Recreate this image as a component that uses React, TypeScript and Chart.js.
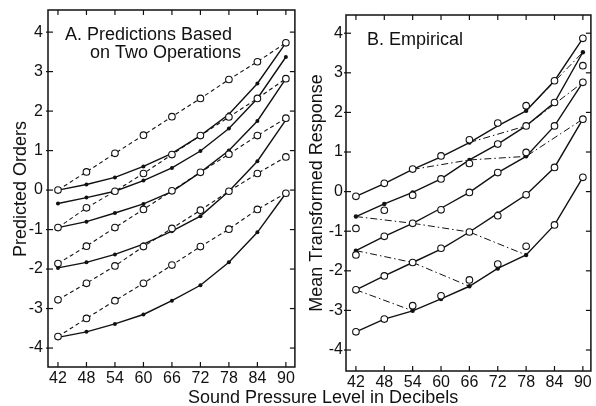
import { useEffect, useRef } from 'react';
import { Chart, registerables } from 'chart.js';
Chart.register(...registerables);

const FONT = "'Liberation Sans', Arial, sans-serif";

// shared axes
const dB = [42, 48, 54, 60, 66, 72, 78, 84, 90];
const yTicks = [-4, -3, -2, -1, 0, 1, 2, 3, 4];

// Panel A: dashed lines with open circles
const aDash1 = [0, 0.46, 0.93, 1.39, 1.86, 2.32, 2.8, 3.25, 3.73];
const aDash2 = [-0.95, -0.45, -0.03, 0.42, 0.9, 1.38, 1.85, 2.32, 2.82];
const aDash3 = [-1.86, -1.42, -0.95, -0.49, -0.02, 0.45, 0.91, 1.38, 1.82];
const aDash4 = [-2.78, -2.36, -1.92, -1.43, -0.97, -0.51, -0.03, 0.42, 0.84];
const aDash5 = [-3.71, -3.25, -2.8, -2.36, -1.9, -1.43, -0.99, -0.49, -0.08];
// Panel A: solid lines with filled dots
const aSolid1 = [0, 0.14, 0.32, 0.6, 0.93, 1.38, 1.92, 2.7, 3.73];
const aSolid2 = [-0.34, -0.19, -0.03, 0.24, 0.56, 0.99, 1.56, 2.32, 3.37];
const aSolid3 = [-0.95, -0.8, -0.58, -0.35, -0.04, 0.45, 1.0, 1.75, 2.82];
const aSolid4 = [-1.97, -1.83, -1.63, -1.37, -1.04, -0.66, -0.03, 0.73, 1.78];
const aSolid5 = [-3.73, -3.59, -3.39, -3.15, -2.8, -2.41, -1.83, -1.07, -0.08];

// Panel B: fitted solid lines
const bFit1 = [-0.12, 0.2, 0.56, 0.88, 1.24, 1.66, 2.04, 2.8, 3.87];
const bFit2 = [-0.63, -0.31, -0.02, 0.32, 0.8, 1.2, 1.66, 2.25, 3.52];
const bFit3 = [-1.49, -1.13, -0.8, -0.42, -0.02, 0.48, 0.89, 1.66, 2.76];
const bFit4 = [-2.48, -2.13, -1.79, -1.45, -1.02, -0.55, -0.08, 0.61, 1.83];
const bFit5 = [-3.54, -3.22, -3.01, -2.71, -2.39, -1.94, -1.6, -0.84, 0.36];
// Panel B: empirical open circles
const bObs1 = [-0.12, 0.21, 0.57, 0.9, 1.31, 1.73, 2.17, 2.8, 3.87];
const bObs2 = [-0.93, -0.47, -0.09, 0.32, 0.71, 1.2, 1.66, 2.25, 3.18];
const bObs3 = [-1.6, -1.13, -0.8, -0.46, -0.02, 0.48, 0.99, 1.66, 2.76];
const bObs4 = [-2.48, -2.13, -1.79, -1.43, -1.02, -0.61, -0.08, 0.61, 1.83];
const bObs5 = [-3.54, -3.22, -2.88, -2.63, -2.23, -1.83, -1.38, -0.84, 0.36];
// Panel B: filled dots on the fitted lines
const bDotX = [42, 42, 48, 54, 54, 60, 66, 66, 66, 72, 72, 78, 78, 78, 90];
const bDotY = [-0.63, -1.49, -0.31, -0.02, -3.01, -2.71, 0.8, 1.24, -2.39, -0.55, -1.94, 2.04, 0.89, -1.6, 3.52];
// Panel B: dash-dot connecting lines
const bDD1X = [42, 54, 66, 78];
const bDD1Y = [-0.63, -0.8, -1.02, -1.6];
const bDD2X = [42, 54, 66];
const bDD2Y = [-1.49, -1.79, -2.39];
const bDD3X = [42, 54];
const bDD3Y = [-2.48, -3.01];
const bDD4X = [54, 66, 78, 90];
const bDD4Y = [0.56, 0.8, 0.89, 1.83];
const bDD5X = [66, 78, 90];
const bDD5Y = [1.24, 1.66, 2.76];
const bDD6X = [78, 90];
const bDD6Y = [2.04, 3.52];

const pts = (ys: number[]) => dB.map((x, i) => ({ x, y: ys[i] }));
const xy = (xs: number[], ys: number[]) => xs.map((x, i) => ({ x, y: ys[i] }));

const INK = '#111';

const framePlugin = {
  id: 'frame',
  afterDraw(chart: any, _args: any, opts: any) {
    const { ctx, chartArea: a, scales } = chart;
    ctx.save();
    ctx.strokeStyle = INK;
    ctx.lineWidth = 1.5;
    ctx.strokeRect(a.left, a.top, a.right - a.left, a.bottom - a.top);
    ctx.lineWidth = 1.2;
    const L = 5;
    const seg = (x1: number, y1: number, x2: number, y2: number) => {
      ctx.beginPath(); ctx.moveTo(x1, y1); ctx.lineTo(x2, y2); ctx.stroke();
    };
    scales.x.ticks.forEach((t: any) => {
      const p = scales.x.getPixelForValue(t.value);
      seg(p, a.top, p, a.top + L);
      seg(p, a.bottom, p, a.bottom - L);
    });
    scales.y.ticks.forEach((t: any) => {
      const p = scales.y.getPixelForValue(t.value);
      seg(a.left - 2, p, a.left + L, p);
      seg(a.right, p, a.right - L, p);
    });
    ctx.fillStyle = INK;
    ctx.font = `18px ${FONT}`;
    ctx.textBaseline = 'alphabetic';
    ctx.textAlign = 'left';
    (opts.labels || []).forEach((l: any) => ctx.fillText(l.text, l.x, l.y));
    if (opts.yTitle) {
      ctx.translate(opts.yTitle.x, opts.yTitle.y);
      ctx.rotate(-Math.PI / 2);
      ctx.textAlign = 'center';
      ctx.textBaseline = 'middle';
      ctx.fillText(opts.yTitle.text, 0, 0);
    }
    ctx.restore();
  },
};

function makeConfig(datasets: any[], g: any, labels: any[], yTitle: any): any {
  return {
    type: 'line',
    data: { datasets },
    plugins: [framePlugin],
    options: {
      animation: false,
      responsive: false,
      maintainAspectRatio: false,
      devicePixelRatio: 1,
      layout: { padding: { left: 0, right: g.padRight, top: g.padTop, bottom: 0 } },
      plugins: {
        legend: { display: false },
        tooltip: { enabled: false },
        frame: { labels, yTitle },
      },
      scales: {
        x: {
          type: 'linear',
          min: g.xMin,
          max: g.xMax,
          grid: { display: false, drawTicks: false },
          border: { display: false },
          afterBuildTicks: (s: any) => { s.ticks = dB.map((v) => ({ value: v })); },
          afterFit: (s: any) => { s.height = g.xAxisH; s.paddingLeft = 0; s.paddingRight = 0; },
          ticks: {
            autoSkip: false, maxRotation: 0, padding: 2, color: INK,
            font: { family: FONT, size: 16 },
            callback: (v: any) => String(v),
          },
        },
        y: {
          type: 'linear',
          min: g.yMin,
          max: g.yMax,
          grid: { display: false, drawTicks: false },
          border: { display: false },
          afterBuildTicks: (s: any) => { s.ticks = yTicks.map((v) => ({ value: v })); },
          afterFit: (s: any) => { s.width = g.yAxisW; s.paddingTop = 0; s.paddingBottom = 0; },
          ticks: {
            autoSkip: false, padding: g.tickPad, color: INK,
            font: { family: FONT, size: 16 },
            callback: (v: any) => String(v),
          },
        },
      },
    },
  };
}

const openStyle = (data: any[], dash: number[] | null) => ({
  data,
  showLine: dash !== null,
  borderColor: INK,
  borderWidth: 1.1,
  borderDash: dash || [],
  pointRadius: 3.3,
  pointBorderWidth: 1.1,
  pointBackgroundColor: '#fff',
  pointBorderColor: INK,
  tension: 0,
  fill: false,
});
const solidStyle = (data: any[], r: number) => ({
  data,
  borderColor: INK,
  borderWidth: 1.4,
  pointRadius: r,
  pointBorderWidth: 0,
  pointBackgroundColor: INK,
  tension: 0,
  fill: false,
});
const dashDot = (data: any[]) => ({
  data,
  borderColor: INK,
  borderWidth: 1,
  borderDash: [7, 3, 1.5, 3],
  pointRadius: 0,
  tension: 0,
  fill: false,
});

export default function App() {
  const refA = useRef<HTMLCanvasElement>(null);
  const refB = useRef<HTMLCanvasElement>(null);

  useEffect(() => {
    document.body.style.margin = '0';
    const dsA = [
      ...[aDash1, aDash2, aDash3, aDash4, aDash5].map((d) => openStyle(pts(d), [4, 3])),
      ...[aSolid1, aSolid2, aSolid3, aSolid4, aSolid5].map((d) => solidStyle(pts(d), 2)),
    ];
    const dsB = [
      ...[bObs1, bObs2, bObs3, bObs4, bObs5].map((d) => openStyle(pts(d), null)),
      { ...solidStyle(xy(bDotX, bDotY), 2.2), showLine: false },
      ...[bFit1, bFit2, bFit3, bFit4, bFit5].map((d) => solidStyle(pts(d), 0)),
      ...[
        xy(bDD1X, bDD1Y), xy(bDD2X, bDD2Y), xy(bDD3X, bDD3Y),
        xy(bDD4X, bDD4Y), xy(bDD5X, bDD5Y), xy(bDD6X, bDD6Y),
      ].map((d) => dashDot(d)),
    ];
    const chartA = new Chart(refA.current as HTMLCanvasElement, makeConfig(dsA,
      { xMin: 39.9, xMax: 91.9, yMin: -4.48, yMax: 4.56, yAxisW: 48, xAxisH: 39, padTop: 10, padRight: 5, tickPad: 5 },
      [{ text: 'A. Predictions Based', x: 65, y: 40 }, { text: 'on Two Operations', x: 90, y: 57.5 }],
      { text: 'Predicted Orders', x: 21, y: 189 }));
    const chartB = new Chart(refB.current as HTMLCanvasElement, makeConfig(dsB,
      { xMin: 39.9, xMax: 91.7, yMin: -4.53, yMax: 4.46, yAxisW: 46, xAxisH: 35, padTop: 15, padRight: 3, tickPad: 3 },
      [{ text: 'B. Empirical', x: 67, y: 45 }],
      { text: 'Mean Transformed Response', x: 17.5, y: 193 }));
    return () => { chartA.destroy(); chartB.destroy(); };
  }, []);

  return (
    <div style={{ position: 'relative', width: 596, height: 406, background: '#fff', overflow: 'hidden' }}>
      <canvas ref={refA} width={300} height={406}
        style={{ position: 'absolute', left: 0, top: 0, width: 300, height: 406 }} />
      <canvas ref={refB} width={296} height={406}
        style={{ position: 'absolute', left: 300, top: 0, width: 296, height: 406 }} />
      <div style={{
        position: 'absolute', left: 188, top: 388, fontFamily: FONT, fontSize: 18,
        lineHeight: '18px', whiteSpace: 'nowrap', color: INK,
      }}>Sound Pressure Level in Decibels</div>
    </div>
  );
}
